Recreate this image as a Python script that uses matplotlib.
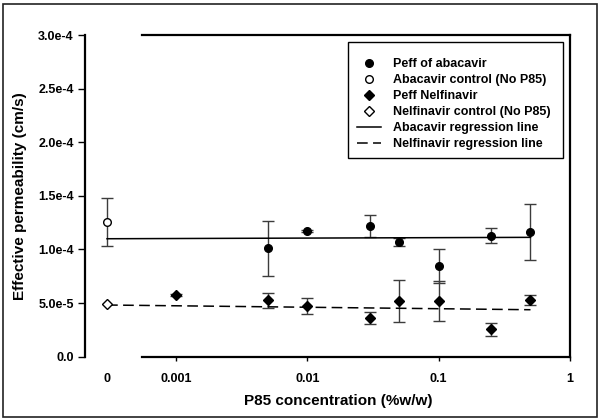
import numpy as np
import matplotlib
matplotlib.use("Agg")
from matplotlib import pyplot as plt
from matplotlib.patches import Rectangle
from matplotlib.ticker import FixedLocator, FixedFormatter

plt.rcParams["font.family"] = ["Liberation Sans", "DejaVu Sans"]
plt.rcParams["font.weight"] = "bold"

# ------------------------------------------------------------------------ DATA
abacavir_conc = [0.005, 0.01, 0.03, 0.05, 0.1, 0.25, 0.5]
abacavir_peff = [1.01e-4, 1.175e-4, 1.22e-4, 1.07e-4, 0.846e-4, 1.13e-4, 1.16e-4]
abacavir_err = [0.255e-4, 0.01e-4, 0.10e-4, 0.035e-4, 0.162e-4, 0.066e-4, 0.26e-4]

abacavir_ctrl_conc = [0.0]
abacavir_ctrl_peff = [1.254e-4]
abacavir_ctrl_err = [0.225e-4]

nelf_conc = [0.001, 0.005, 0.01, 0.03, 0.05, 0.1, 0.25, 0.5]
nelf_peff = [5.75e-5, 5.25e-5, 4.75e-5, 3.6e-5, 5.22e-5, 5.2e-5, 2.55e-5, 5.32e-5]
nelf_err = [0.1e-5, 0.72e-5, 0.77e-5, 0.55e-5, 1.95e-5, 1.87e-5, 0.62e-5, 0.48e-5]

nelf_ctrl_conc = [0.0]
nelf_ctrl_peff = [4.95e-5]

reg_x = [0.0, 0.5]
abacavir_reg = [1.10e-4, 1.113e-4]
nelf_reg = [4.82e-5, 4.38e-5]

x_ticks = [0, 0.001, 0.01, 0.1, 1]
x_ticklabels = ["0", "0.001", "0.01", "0.1", "1"]
y_ticks = [0, 5e-5, 1e-4, 1.5e-4, 2e-4, 2.5e-4, 3e-4]
y_ticklabels = ["0.0", "5.0e-5", "1.0e-4", "1.5e-4", "2.0e-4", "2.5e-4", "3.0e-4"]

# log axis with the zero control placed left of the break
ZERO_POS = -3.527


def fwd(x):
    x = np.asarray(x, dtype=float)
    out = np.full(x.shape, ZERO_POS)
    m = x > 0
    out[m] = np.log10(x[m])
    return out


def inv(y):
    return 10.0 ** np.asarray(y, dtype=float)


# ------------------------------------------------------------------------ PLOT
W, H = 600, 420
fig = plt.figure(figsize=(6, 4.2), dpi=100)
ax = fig.add_axes([85 / W, 63.3 / H, 485 / W, 321.7 / H])
ax.set_xscale("function", functions=(fwd, inv))
ax.set_xlim(10 ** -3.695, 1)
ax.set_ylim(0, 3e-4)

ebar = "#3c3c3c"
ax.errorbar(abacavir_conc, abacavir_peff, yerr=abacavir_err, fmt="none",
            ecolor=ebar, elinewidth=1, capsize=4, capthick=1, zorder=2)
ax.errorbar(abacavir_ctrl_conc, abacavir_ctrl_peff, yerr=abacavir_ctrl_err, fmt="none",
            ecolor=ebar, elinewidth=1, capsize=4, capthick=1, zorder=2)
ax.errorbar(nelf_conc, nelf_peff, yerr=nelf_err, fmt="none",
            ecolor=ebar, elinewidth=1, capsize=4, capthick=1, zorder=2)

ax.plot(abacavir_conc, abacavir_peff, "o", color="black", ms=5.5, ls="none",
        label="Peff of abacavir", zorder=4)
ax.plot(abacavir_ctrl_conc, abacavir_ctrl_peff, "o", mfc="white", mec="black", mew=1,
        ms=5.5, ls="none", label="Abacavir control (No P85)", zorder=4)
ax.plot(nelf_conc, nelf_peff, "D", color="black", ms=4.8, ls="none",
        label="Peff Nelfinavir", zorder=4)
ax.plot(nelf_ctrl_conc, nelf_ctrl_peff, "D", mfc="white", mec="black", mew=1,
        ms=4.8, ls="none", label="Nelfinavir control (No P85)", zorder=4)
ax.plot(reg_x, abacavir_reg, "-", color="black", lw=1.1,
        label="Abacavir regression line", zorder=3)
ax.plot(reg_x, nelf_reg, color="black", lw=1.1, dashes=(7, 3.5),
        label="Nelfinavir regression line", zorder=3)

# axes frame: broken at the zero section
for s in ["left", "right", "top", "bottom"]:
    ax.spines[s].set_linewidth(1.6)
ax.spines["bottom"].set_bounds(10 ** -3.26, 1)
ax.spines["top"].set_bounds(10 ** -3.26, 1)

ax.xaxis.set_major_locator(FixedLocator(x_ticks))
ax.xaxis.set_major_formatter(FixedFormatter(x_ticklabels))
ax.xaxis.set_minor_locator(FixedLocator([]))
ax.yaxis.set_major_locator(FixedLocator(y_ticks))
ax.yaxis.set_major_formatter(FixedFormatter(y_ticklabels))
ax.tick_params(axis="x", direction="out", length=3, width=1, labelsize=9, pad=9)
ax.tick_params(axis="y", direction="out", length=5, width=1, labelsize=9, pad=3)
ax.xaxis.get_major_ticks()[0].tick1line.set_visible(False)

ax.set_xlabel("P85 concentration (%w/w)", fontsize=11, fontweight="bold", labelpad=8)
ax.xaxis.set_label_coords((338 - 85) / 485, -0.115)
ax.set_ylabel("Effective permeability (cm/s)", fontsize=11, fontweight="bold", labelpad=8)

# legend entries without a frame; the box is drawn separately
leg = ax.legend(loc="upper left", bbox_to_anchor=(357 / W, 1 - 58 / H),
                bbox_transform=fig.transFigure, fontsize=9, frameon=False,
                handlelength=1.9, handletextpad=1.0, labelspacing=0.32,
                borderpad=0.0, borderaxespad=0)
fig.patches.append(Rectangle((348 / W, 1 - 158 / H), 215 / W, 116 / H,
                             transform=fig.transFigure, fill=False,
                             edgecolor="black", lw=1.0, zorder=5))

fig.patches.append(Rectangle((3 / W, 3.3 / H), 594 / W, 412.7 / H,
                             transform=fig.transFigure, fill=False,
                             edgecolor="#222222", lw=1.2))

fig.savefig("out.png", dpi=100)
